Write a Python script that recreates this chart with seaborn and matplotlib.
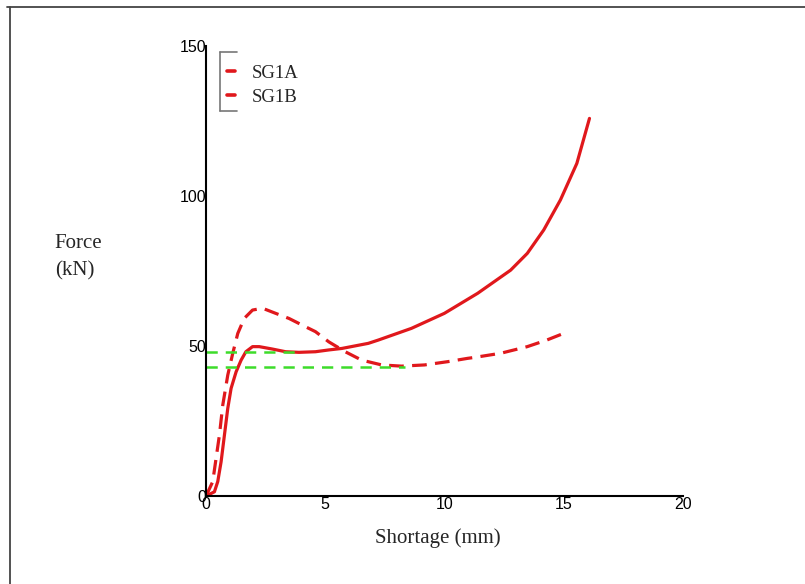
import numpy as np
import pandas as pd
import matplotlib
matplotlib.use("Agg")
import matplotlib.pyplot as plt
from matplotlib.lines import Line2D
import seaborn as sns

# Load–shortening response of the two specimens
sg1a_x = [0.0, 0.35, 0.49, 0.63, 0.77, 0.91, 1.05, 1.26, 1.47, 1.67, 1.95, 2.23,
          2.78, 3.34, 3.90, 4.59, 5.15, 5.70, 6.81, 7.23, 8.62, 10.00, 11.40,
          12.78, 13.48, 14.17, 14.87, 15.56, 16.09]
sg1a_y = [0.0, 1.4, 4.8, 11.4, 20.3, 29.2, 35.9, 41.4, 45.3, 48.1, 49.8, 49.8,
          49.0, 48.1, 47.9, 48.1, 48.7, 49.2, 50.9, 52.0, 55.9, 60.9, 67.6,
          75.3, 80.9, 88.7, 98.7, 110.9, 125.9]

sg1b_x = [0.0, 0.28, 0.42, 0.56, 0.70, 0.91, 1.12, 1.33, 1.60, 1.95, 2.37, 2.92,
          3.48, 4.18, 4.59, 5.15, 5.84, 6.53, 7.37, 8.20, 9.17, 10.15, 10.98,
          11.26, 12.37, 13.48, 14.30, 15.00, 15.08]
sg1b_y = [0.0, 4.8, 12.6, 20.3, 30.3, 40.3, 47.6, 54.2, 59.2, 62.0, 62.6, 60.9,
          59.2, 56.4, 54.8, 51.4, 48.1, 45.3, 43.7, 43.3, 43.7, 44.8, 45.9,
          46.2, 47.6, 49.8, 52.0, 54.2, 54.4]

# Plateau (reference) force levels and their extent along the shortening axis
plateau_levels = [48.0, 42.9]
plateau_ends = [4.0, 8.35]

x_ticks = [0, 5, 10, 15, 20]
y_ticks = [0, 50, 100, 150]

red = "#e0181c"
green = "#3ddc2a"

sns.set_theme(style="white")
plt.rcParams["font.family"] = ["Liberation Sans Narrow", "Liberation Sans", "DejaVu Sans"]

fig = plt.figure(figsize=(8.05, 5.84), dpi=100)
ax = fig.add_axes([0.256, 0.1507, 0.592, 0.7703])

df_a = pd.DataFrame({"x": sg1a_x, "y": sg1a_y})
df_b = pd.DataFrame({"x": sg1b_x, "y": sg1b_y})

sns.lineplot(data=df_a, x="x", y="y", ax=ax, color=red, lw=2.3, sort=False,
             estimator=None, label="SG1A")
sns.lineplot(data=df_b, x="x", y="y", ax=ax, color=red, lw=2.3, sort=False,
             estimator=None, label="SG1B", linestyle=(0, (4.6, 2.6)))

for lvl, xe in zip(plateau_levels, plateau_ends):
    pdf = pd.DataFrame({"x": [0.0, xe], "y": [lvl, lvl]})
    sns.lineplot(data=pdf, x="x", y="y", ax=ax, color=green, lw=1.8,
                 estimator=None, linestyle=(0, (4.5, 3.2)), legend=False)

ax.set_xlim(0, 20)
ax.set_ylim(0, 150)
ax.set_xticks(x_ticks)
ax.set_yticks(y_ticks)
ax.tick_params(axis="both", length=0, labelsize=11.5, colors="black")
ax.tick_params(axis="y", pad=0)
ax.tick_params(axis="x", pad=1)

for s in ["top", "right"]:
    ax.spines[s].set_visible(False)
for s in ["left", "bottom"]:
    ax.spines[s].set_color("black")
    ax.spines[s].set_linewidth(1.5)

ax.set_xlabel("")
ax.set_ylabel("")

serif = ["Liberation Serif", "DejaVu Serif"]
fig.text(0.544, 0.078, "Shortage (mm)", ha="center", va="center",
         fontsize=15, family=serif)
fig.text(0.068, 0.56, "Force\n(kN)", ha="left", va="center",
         fontsize=15, family=serif, linespacing=1.6)

# Legend with a bracket-style frame
leg = ax.legend(loc="upper left", bbox_to_anchor=(0.008, 0.996), frameon=False,
                handlelength=0.45, handletextpad=0.9, labelspacing=0.35,
                prop={"family": serif, "size": 13.5})
for h in leg.legend_handles:
    h.set_linestyle("-")
    h.set_linewidth(2.6)

bx0, bx1 = 220 / 805, 237 / 805
by0, by1 = 1 - 52 / 584, 1 - 111 / 584
gray = "#777777"
for xs, ys in [([bx0, bx0], [by0, by1]), ([bx0, bx1], [by0, by0]), ([bx0, bx1], [by1, by1])]:
    fig.add_artist(Line2D(xs, ys, transform=fig.transFigure, color=gray, lw=1.2))

# Outer figure frame (top and left edges)
fx, fy = 10 / 805, 1 - 7 / 584
fig.add_artist(Line2D([fx, fx], [-0.01, fy], transform=fig.transFigure, color="#444444", lw=1.3))
fig.add_artist(Line2D([fx - 0.004, 1.01], [fy, fy], transform=fig.transFigure, color="#444444", lw=1.3))

fig.savefig("out.png", dpi=100)
